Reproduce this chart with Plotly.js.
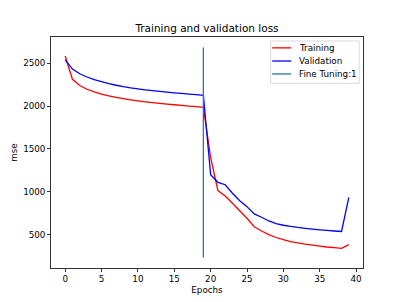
<!DOCTYPE html>
<html>
<head>
<meta charset="utf-8">
<script src="https://cdn.plot.ly/plotly-3.0.1.min.js"></script>
<style>html,body{margin:0;padding:0;background:#fff;}#chart{width:404px;height:302px;}</style>
</head>
<body>
<div id="chart"></div>
<script>
var epochs = [];
for (var i = 0; i < 40; i++) epochs.push(i);
var trainingLoss = [2585, 2313, 2240, 2197, 2166, 2141, 2120, 2102, 2087, 2074,
                    2062, 2051, 2041, 2032, 2024, 2016, 2008, 2001, 1994, 1987,
                    1400, 1015, 952, 866, 780, 691, 593, 543, 500, 467,
                    441, 420, 403, 389, 377, 366, 356, 348, 341, 383];
var validationLoss = [2540, 2433, 2378, 2340, 2310, 2285, 2263, 2244, 2228, 2214,
                      2202, 2191, 2181, 2172, 2163, 2155, 2148, 2141, 2134, 2127,
                      1200, 1111, 1083, 983, 897, 827, 742, 703, 660, 630,
                      610, 596, 584, 574, 565, 557, 550, 543, 537, 936];
var fineTuneEpoch = [19, 19];
var fineTuneRange = [233, 2685];
var legendLabels = ["Training", "Validation", "Fine Tuning:1"];
var legendColors = ["red", "blue", "#1f77b4"];
var xTicks = [0, 5, 10, 15, 20, 25, 30, 35, 40];
var yTicks = [500, 1000, 1500, 2000, 2500];

var font = {family: "DejaVu Sans", size: 8.75, color: "#000"};

var traces = [
  {x: epochs, y: trainingLoss, type: "scatter", mode: "lines", name: legendLabels[0],
   line: {color: legendColors[0], width: 1.3, simplify: false}, showlegend: false, hoverinfo: "skip"},
  {x: epochs, y: validationLoss, type: "scatter", mode: "lines", name: legendLabels[1],
   line: {color: legendColors[1], width: 1.3, simplify: false}, showlegend: false, hoverinfo: "skip"},
  {x: fineTuneEpoch, y: fineTuneRange, type: "scatter", mode: "lines", name: legendLabels[2],
   line: {color: legendColors[2], width: 1.3}, showlegend: false, hoverinfo: "skip"}
];

// manual matplotlib-style legend
var rowsY = [0.9530, 0.8960, 0.8400];
var shapes = [{
  type: "rect", xref: "paper", yref: "paper",
  x0: 0.704, x1: 0.988, y0: 0.7996, y1: 0.9827,
  line: {color: "#d0d0d0", width: 0.8}, fillcolor: "rgba(255,255,255,0.8)"
}];
var annotations = [];
for (var k = 0; k < legendLabels.length; k++) {
  shapes.push({type: "line", xref: "paper", yref: "paper",
    x0: 0.709, x1: 0.770, y0: rowsY[k], y1: rowsY[k],
    line: {color: legendColors[k], width: 1.3}});
  annotations.push({xref: "paper", yref: "paper", x: 0.790, y: rowsY[k],
    xanchor: "left", yanchor: "middle", showarrow: false,
    text: legendLabels[k], font: font});
}

var layout = {
  width: 404, height: 302,
  margin: {l: 51, r: 41, t: 37, b: 34},
  paper_bgcolor: "#fff", plot_bgcolor: "#fff",
  font: font,
  title: {text: "Training and validation loss", font: {family: "DejaVu Sans", size: 10.5, color: "#000"},
          x: 0.5, xref: "paper", xanchor: "center", y: 1, yref: "paper", yanchor: "bottom", pad: {b: 5}},
  xaxis: {range: [-1.95, 40.95], tickvals: xTicks, ticktext: xTicks.map(String),
          showgrid: false, zeroline: false, showline: true, mirror: true,
          linecolor: "#000", linewidth: 0.8, ticks: "outside", ticklen: 3, tickwidth: 0.8,
          tickcolor: "#000", tickfont: font,
          title: {text: "Epochs", font: font, standoff: 3}},
  yaxis: {range: [111, 2807], tickvals: yTicks, ticktext: yTicks.map(String),
          showgrid: false, zeroline: false, showline: true, mirror: true,
          linecolor: "#000", linewidth: 0.8, ticks: "outside", ticklen: 3, tickwidth: 0.8,
          tickcolor: "#000", tickfont: font,
          title: {text: "mse", font: font, standoff: 4}},
  shapes: shapes,
  annotations: annotations
};

Plotly.newPlot("chart", traces, layout, {staticPlot: true, displayModeBar: false});
</script>
</body>
</html>
